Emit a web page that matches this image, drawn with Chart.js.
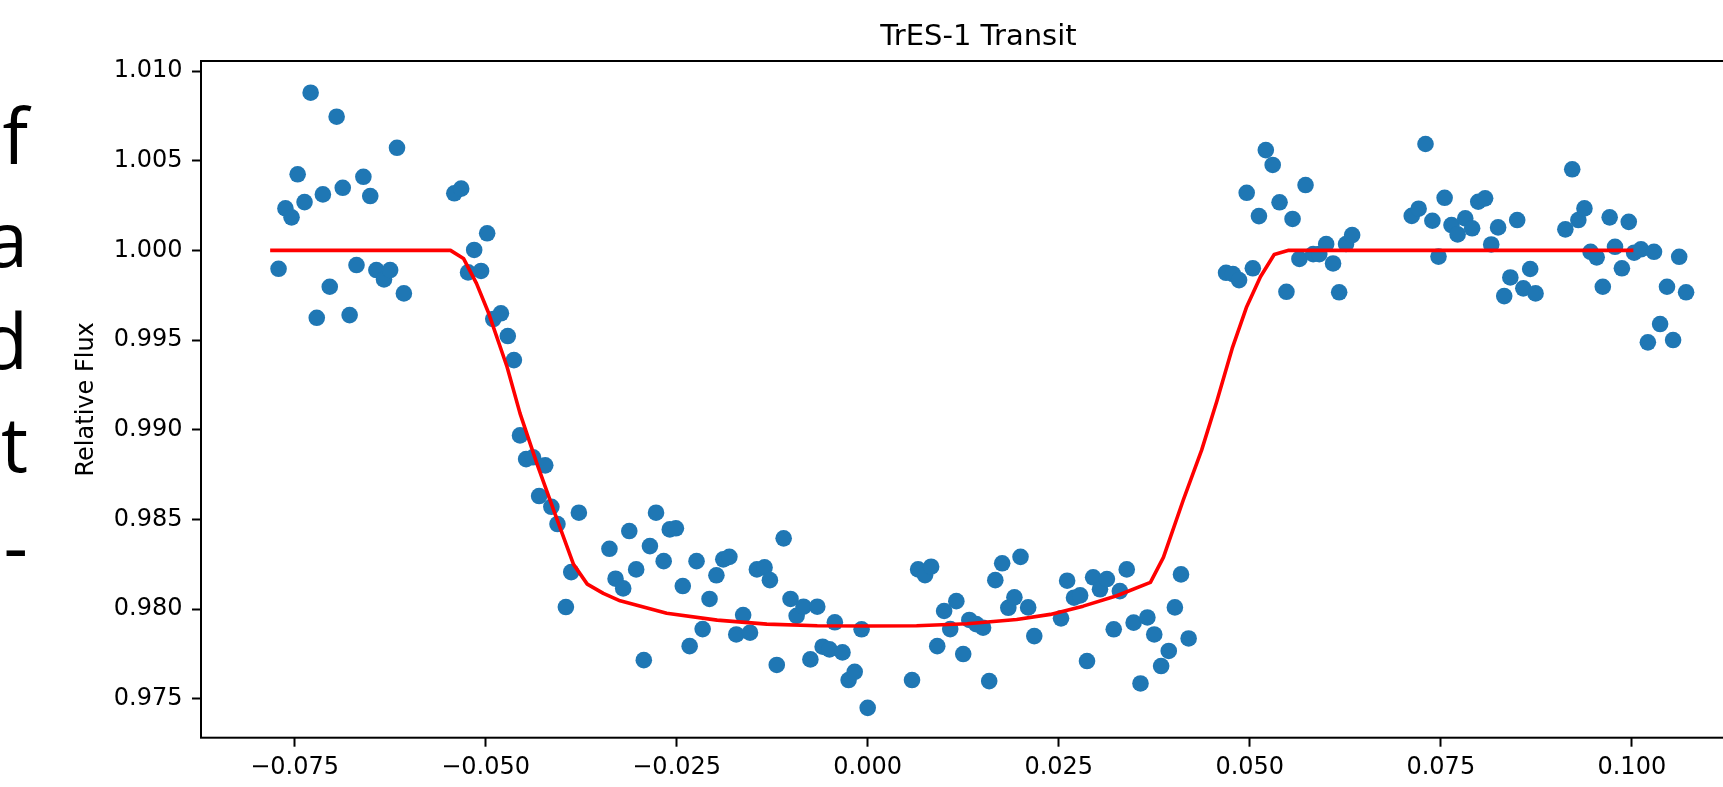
<!DOCTYPE html>
<html>
<head>
<meta charset="utf-8">
<title>TrES-1 Transit</title>
<script src="https://cdn.jsdelivr.net/npm/chart.js@4"></script>
<style>
  html, body { margin: 0; padding: 0; background: #fff; overflow: hidden; }
  body { width: 1723px; height: 787px; position: relative; }
  #chart { position: absolute; left: 0; top: 0; }
  .side-text {
    position: absolute; left: -72px; top: 84px; width: 100px;
    text-align: right; font-family: "Open Sans", sans-serif;
    font-size: 76px; line-height: 102.5px; color: #000;
  }
</style>
</head>
<body>
<div class="side-text">f<br>a<br>d<br>t<br>-</div>
<canvas id="chart" width="1800" height="787"></canvas>
<script>
// observed light curve (time from mid-transit, relative flux)
const timeValues = [
  -0.0771, -0.0762, -0.0754, -0.0746, -0.0737, -0.0729, -0.0721, -0.0713, -0.0704, -0.0695,
  -0.0687, -0.0678, -0.0669, -0.0660, -0.0651, -0.0643, -0.0633, -0.0625, -0.0616, -0.0607,
  -0.0541, -0.0532, -0.0523, -0.0515, -0.0506, -0.0498, -0.0490, -0.0480, -0.0471, -0.0463,
  -0.0455, -0.0447, -0.0438, -0.0430, -0.0422, -0.0414, -0.0406, -0.0395, -0.0388, -0.0378,
  -0.0338, -0.0330, -0.0320, -0.0312, -0.0303, -0.0293, -0.0285, -0.0277, -0.0267, -0.0259,
  -0.0251, -0.0242, -0.0233, -0.0224, -0.0216, -0.0207, -0.0198, -0.0189, -0.0181, -0.0172,
  -0.0163, -0.0154, -0.0145, -0.0135, -0.0128, -0.0119, -0.0110, -0.0101, -0.0093, -0.0084,
  -0.0075, -0.0066, -0.0059, -0.0050, -0.0043, -0.0033, -0.0025, -0.0017, -0.0008, 0.0000,
  0.0058, 0.0066, 0.0075, 0.0083, 0.0091, 0.0100, 0.0108, 0.0116, 0.0125, 0.0133,
  0.0142, 0.0151, 0.0159, 0.0167, 0.0176, 0.0184, 0.0192, 0.0200, 0.0210, 0.0218,
  0.0253, 0.0261, 0.0270, 0.0278, 0.0287, 0.0295, 0.0304, 0.0313, 0.0322, 0.0330,
  0.0339, 0.0348, 0.0357, 0.0366, 0.0375, 0.0384, 0.0394, 0.0402, 0.0410, 0.0420,
  0.0469, 0.0478, 0.0486, 0.0496, 0.0504, 0.0512, 0.0521, 0.0530, 0.0539, 0.0548,
  0.0556, 0.0565, 0.0573, 0.0583, 0.0591, 0.0600, 0.0609, 0.0617, 0.0626, 0.0634,
  0.0712, 0.0721, 0.0730, 0.0739, 0.0747, 0.0755, 0.0764, 0.0772, 0.0782, 0.0791,
  0.0799, 0.0808, 0.0816, 0.0825, 0.0833, 0.0841, 0.0850, 0.0858, 0.0867, 0.0874,
  0.0913, 0.0922, 0.0930, 0.0938, 0.0946, 0.0954, 0.0962, 0.0971, 0.0978, 0.0987,
  0.0996, 0.1003, 0.1012, 0.1021, 0.1029, 0.1037, 0.1046, 0.1054, 0.1062, 0.1071
];
const fluxValues = [
  0.99897, 1.00234, 1.00184, 1.00424, 1.00269, 1.00879, 0.99624, 1.00312, 0.99797, 1.00745,
  1.00349, 0.99639, 0.99918, 1.00410, 1.00303, 0.99890, 0.99838, 0.99890, 1.00572, 0.99760,
  1.00318, 1.00344, 0.99877, 1.00002, 0.99885, 1.00095, 0.99617, 0.99649, 0.99522, 0.99388,
  0.98968, 0.98836, 0.98846, 0.98630, 0.98801, 0.98570, 0.98474, 0.98011, 0.98206, 0.98537,
  0.98336, 0.98169, 0.98115, 0.98435, 0.98221, 0.97715, 0.98351, 0.98537, 0.98267, 0.98444,
  0.98450, 0.98128, 0.97793, 0.98267, 0.97888, 0.98056, 0.98188, 0.98277, 0.98291, 0.97858,
  0.97966, 0.97868, 0.98221, 0.98232, 0.98161, 0.97688, 0.98394, 0.98056, 0.97962, 0.98013,
  0.97719, 0.98013, 0.97790, 0.97775, 0.97926, 0.97758, 0.97604, 0.97650, 0.97887, 0.97449,
  0.97604, 0.98221, 0.98189, 0.98236, 0.97793, 0.97989, 0.97888, 0.98044, 0.97749, 0.97939,
  0.97916, 0.97896, 0.97598, 0.98161, 0.98255, 0.98007, 0.98065, 0.98291, 0.98009, 0.97849,
  0.97948, 0.98158, 0.98063, 0.98076, 0.97710, 0.98177, 0.98110, 0.98167, 0.97887, 0.98100,
  0.98221, 0.97924, 0.97585, 0.97953, 0.97858, 0.97682, 0.97766, 0.98009, 0.98193, 0.97836,
  0.99875, 0.99868, 0.99834, 1.00321, 0.99900, 1.00191, 1.00559, 1.00476, 1.00268, 0.99769,
  1.00175, 0.99952, 1.00364, 0.99979, 0.99979, 1.00035, 0.99927, 0.99766, 1.00035, 1.00085,
  1.00192, 1.00232, 1.00593, 1.00165, 0.99965, 1.00293, 1.00141, 1.00089, 1.00178, 1.00123,
  1.00271, 1.00290, 1.00033, 1.00128, 0.99745, 0.99849, 1.00169, 0.99788, 0.99896, 0.99760,
  1.00117, 1.00452, 1.00169, 1.00234, 0.99992, 0.99961, 0.99797, 1.00184, 1.00020, 0.99900,
  1.00159, 0.99987, 1.00006, 0.99487, 0.99992, 0.99589, 0.99797, 0.99500, 0.99964, 0.99766
];

// fitted transit model
const modelTime = [
  -0.0782, -0.0546, -0.0529, -0.0512, -0.0496, -0.0472, -0.0455, -0.0433, -0.0411, -0.0385,
  -0.0367, -0.0346, -0.0324, -0.0263, -0.0197, -0.0132, -0.0066, 0.0000, 0.0064, 0.0130,
  0.0195, 0.0239, 0.0282, 0.0326, 0.0370, 0.0387, 0.0413, 0.0437, 0.0457, 0.0477,
  0.0496, 0.0514, 0.0532, 0.0551, 0.1002
];
const modelFlux = [
  1.00000, 1.00000, 0.99955, 0.99816, 0.99649, 0.99351, 0.99091, 0.98812, 0.98552, 0.98249,
  0.98139, 0.98087, 0.98046, 0.97976, 0.97938, 0.97916, 0.97907, 0.97905, 0.97907, 0.97918,
  0.97942, 0.97970, 0.98016, 0.98074, 0.98149, 0.98288, 0.98608, 0.98886, 0.99160, 0.99453,
  0.99686, 0.99853, 0.99977, 1.00000, 1.00000
];

const xTickValues = [-0.075, -0.05, -0.025, 0, 0.025, 0.05, 0.075, 0.1];
const yTickValues = [0.975, 0.98, 0.985, 0.99, 0.995, 1.0, 1.005, 1.01];

window.onload = () => {
	const toPoints = (xs, ys) => xs.map((x, i) => ({ x, y: ys[i] }));

	// black box round the plot area, like the matplotlib spines
	const frame = {
		id: "frame",
		afterDatasetsDraw(chart) {
			const { ctx, chartArea } = chart;
			ctx.save();
			ctx.strokeStyle = "#000";
			ctx.lineWidth = 2;
			ctx.strokeRect(chartArea.left, chartArea.top, chartArea.right - chartArea.left, chartArea.bottom - chartArea.top);
			ctx.restore();
		},
	};

	const tickGrid = {
		display: true,
		drawOnChartArea: false,
		drawTicks: true,
		tickLength: 9,
		tickWidth: 2,
		tickColor: "#000",
	};

	Chart.defaults.font.family = "'DejaVu Sans', sans-serif";
	Chart.defaults.color = "#000";

	const ctx = document.getElementById("chart").getContext("2d");
	new Chart(ctx, {
		type: "scatter",
		data: {
			datasets: [
				{
					label: "Model",
					data: toPoints(modelTime, modelFlux),
					showLine: true,
					borderColor: "#ff0000",
					borderWidth: 3.6,
					borderJoinStyle: "round",
					pointRadius: 0,
					pointHoverRadius: 0,
					fill: false,
					tension: 0,
				},
				{
					label: "Data",
					data: toPoints(timeValues, fluxValues),
					backgroundColor: "#1f77b4",
					borderColor: "#1f77b4",
					borderWidth: 0,
					pointRadius: 8.3,
					pointHoverRadius: 8.3,
				},
			],
		},
		options: {
			responsive: false,
			animation: false,
			devicePixelRatio: 1,
			layout: { padding: { left: 0, right: 44, top: 0, bottom: 0 } },
			plugins: {
				legend: { display: false },
				tooltip: { enabled: false },
				title: {
					display: true,
					text: "TrES-1 Transit",
					color: "#000",
					fullSize: false,
					font: { size: 29, weight: "normal" },
					padding: { top: 20, bottom: 6.2 },
				},
			},
			scales: {
				x: {
					type: "linear",
					position: "bottom",
					min: -0.08725,
					max: 0.11625,
					afterBuildTicks: (scale) => {
						scale.ticks = xTickValues.map((value) => ({ value }));
					},
					afterFit: (scale) => {
						scale.height = 49.3;
					},
					ticks: {
						font: { size: 24 },
						color: "#000",
						padding: 7,
						maxRotation: 0,
						autoSkip: false,
						callback: (v) => v.toFixed(3).replace("-", "\u2212"),
					},
					grid: tickGrid,
					border: { display: false },
				},
				y: {
					type: "linear",
					position: "left",
					min: 0.972825,
					max: 1.010558,
					afterBuildTicks: (scale) => {
						scale.ticks = yTickValues.map((value) => ({ value }));
					},
					afterFit: (scale) => {
						scale.width = 201;
					},
					ticks: {
						font: { size: 24 },
						color: "#000",
						padding: 9.5,
						autoSkip: false,
						callback: (v) => v.toFixed(3),
					},
					grid: tickGrid,
					border: { display: false },
					title: {
						display: true,
						text: "Relative Flux",
						color: "#000",
						font: { size: 24 },
						padding: { top: 72, bottom: 0 },
					},
				},
			},
		},
		plugins: [frame],
	});
};
</script>
</body>
</html>
